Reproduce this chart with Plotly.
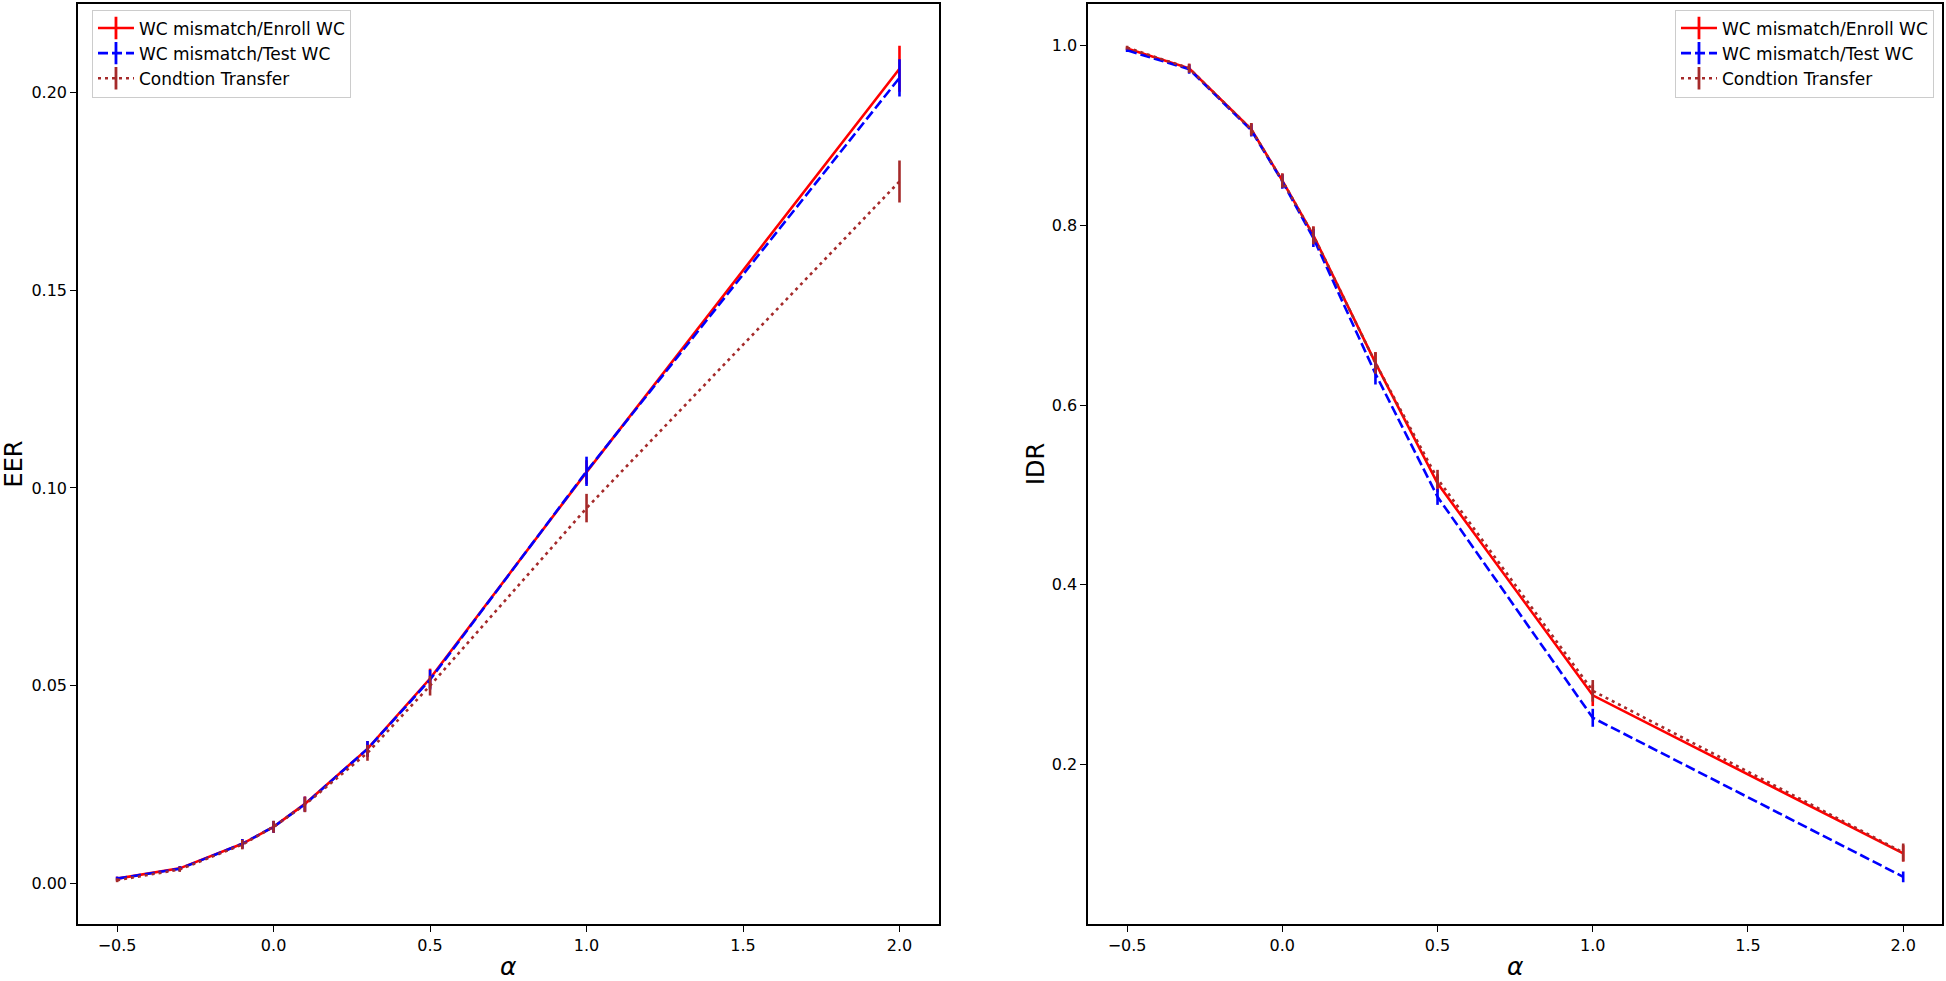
import plotly.graph_objects as go

# alpha values shared by every series
alpha = [-0.5, -0.3, -0.1, 0.0, 0.1, 0.3, 0.5, 1.0, 2.0]

labels = ["WC mismatch/Enroll WC", "WC mismatch/Test WC", "Condtion Transfer"]

# EER panel
eer_enroll = [0.0012, 0.0038, 0.0100, 0.0143, 0.0201, 0.0340, 0.0518, 0.1040, 0.2060]
eer_enroll_err = [0.0005, 0.0006, 0.0012, 0.0015, 0.0019, 0.0020, 0.0025, 0.0030, 0.0058]
eer_test = [0.0012, 0.0037, 0.0100, 0.0143, 0.0200, 0.0340, 0.0515, 0.1042, 0.2037]
eer_test_err = [0.0005, 0.0006, 0.0012, 0.0015, 0.0019, 0.0020, 0.0025, 0.0037, 0.0047]
eer_transfer = [0.0008, 0.0035, 0.0098, 0.0143, 0.0199, 0.0330, 0.0500, 0.0949, 0.1775]
eer_transfer_err = [0.0005, 0.0006, 0.0012, 0.0015, 0.0019, 0.0020, 0.0025, 0.0036, 0.0053]

# IDR panel
idr_enroll = [0.997, 0.975, 0.907, 0.850, 0.789, 0.647, 0.513, 0.277, 0.101]
idr_enroll_err = [0.002, 0.005, 0.007, 0.008, 0.010, 0.012, 0.010, 0.012, 0.009]
idr_test = [0.995, 0.974, 0.906, 0.849, 0.786, 0.635, 0.498, 0.252, 0.075]
idr_test_err = [0.002, 0.005, 0.007, 0.008, 0.010, 0.012, 0.009, 0.010, 0.006]
idr_transfer = [0.998, 0.975, 0.907, 0.850, 0.789, 0.647, 0.518, 0.282, 0.102]
idr_transfer_err = [0.002, 0.005, 0.007, 0.008, 0.010, 0.012, 0.010, 0.012, 0.010]

COLORS = ["#ff0000", "#0000ff", "#a52a2a"]
DASHES = ["solid", "10px,4px", "3px,4px"]
FONT = "DejaVu Sans, sans-serif"


def padded_range(values, errs, frac=0.05):
    lo = min(v - e for v, e in zip(values, errs))
    hi = max(v + e for v, e in zip(values, errs))
    pad = (hi - lo) * frac
    return [lo - pad, hi + pad]


def add_panel(fig, series, xaxis, yaxis, legend):
    for i, (ys, errs) in enumerate(series):
        fig.add_trace(go.Scatter(
            x=alpha, y=ys, mode="lines", xaxis=xaxis, yaxis=yaxis,
            line=dict(color=COLORS[i], width=2.6, dash=DASHES[i]),
            error_y=dict(type="data", array=errs, visible=True,
                         color=COLORS[i], thickness=2.6, width=0),
            showlegend=False, hoverinfo="x+y",
        ))
    # legend-only entries: line with a vertical error tick
    for i in range(3):
        fig.add_trace(go.Scatter(
            x=[None], y=[None], mode="lines+markers", name=labels[i],
            xaxis=xaxis, yaxis=yaxis, legend=legend,
            line=dict(color=COLORS[i], width=2.6, dash=DASHES[i]),
            marker=dict(symbol="line-ns", size=20,
                        line=dict(color=COLORS[i], width=2.8)),
        ))


fig = go.Figure()

eer_series = [(eer_enroll, eer_enroll_err), (eer_test, eer_test_err),
              (eer_transfer, eer_transfer_err)]
idr_series = [(idr_enroll, idr_enroll_err), (idr_test, idr_test_err),
              (idr_transfer, idr_transfer_err)]

add_panel(fig, eer_series, "x", "y", "legend")
add_panel(fig, idr_series, "x2", "y2", "legend2")

all_eer = eer_enroll + eer_test + eer_transfer
all_eer_err = eer_enroll_err + eer_test_err + eer_transfer_err
all_idr = idr_enroll + idr_test + idr_transfer
all_idr_err = idr_enroll_err + idr_test_err + idr_transfer_err

axis_common = dict(
    showline=True, linecolor="black", linewidth=1.6, mirror=True,
    ticks="outside", ticklen=6, tickwidth=1.3, tickcolor="black",
    showgrid=False, zeroline=False,
    tickfont=dict(family=FONT, size=16, color="black"),
)
xr = padded_range(alpha, [0] * len(alpha))

legend_style = dict(
    font=dict(family=FONT, size=17, color="black"),
    bgcolor="rgba(255,255,255,0.8)", bordercolor="#cccccc", borderwidth=1,
    yanchor="top", y=0.994, tracegroupgap=0, itemwidth=36,
)

fig.update_layout(
    width=1946, height=981,
    margin=dict(l=78, r=2, t=3, b=53),
    plot_bgcolor="white", paper_bgcolor="white",
    font=dict(family=FONT, color="black"),
    xaxis=dict(domain=[0, 0.4617], range=xr, dtick=0.5, tickformat=".1f",
               title=dict(text="<i>α</i>", font=dict(size=25), standoff=6),
               **axis_common),
    yaxis=dict(range=padded_range(all_eer, all_eer_err), dtick=0.05,
               tickformat=".2f",
               title=dict(text="EER", font=dict(size=24), standoff=8),
               **axis_common),
    xaxis2=dict(domain=[0.542, 1], range=xr, dtick=0.5, tickformat=".1f",
                anchor="y2",
                title=dict(text="<i>α</i>", font=dict(size=25), standoff=6),
                **axis_common),
    yaxis2=dict(range=padded_range(all_idr, all_idr_err), dtick=0.2,
                tickformat=".1f", anchor="x2",
                title=dict(text="IDR", font=dict(size=24), standoff=0),
                **axis_common),
    legend=dict(x=0.0075, xanchor="left", **legend_style),
    legend2=dict(x=0.9957, xanchor="right", **legend_style),
)

# drop the default page margin so the figure fills the window exactly
fig.write_html("out.html", config={"displayModeBar": False},
               post_script="document.body.style.margin='0';")
